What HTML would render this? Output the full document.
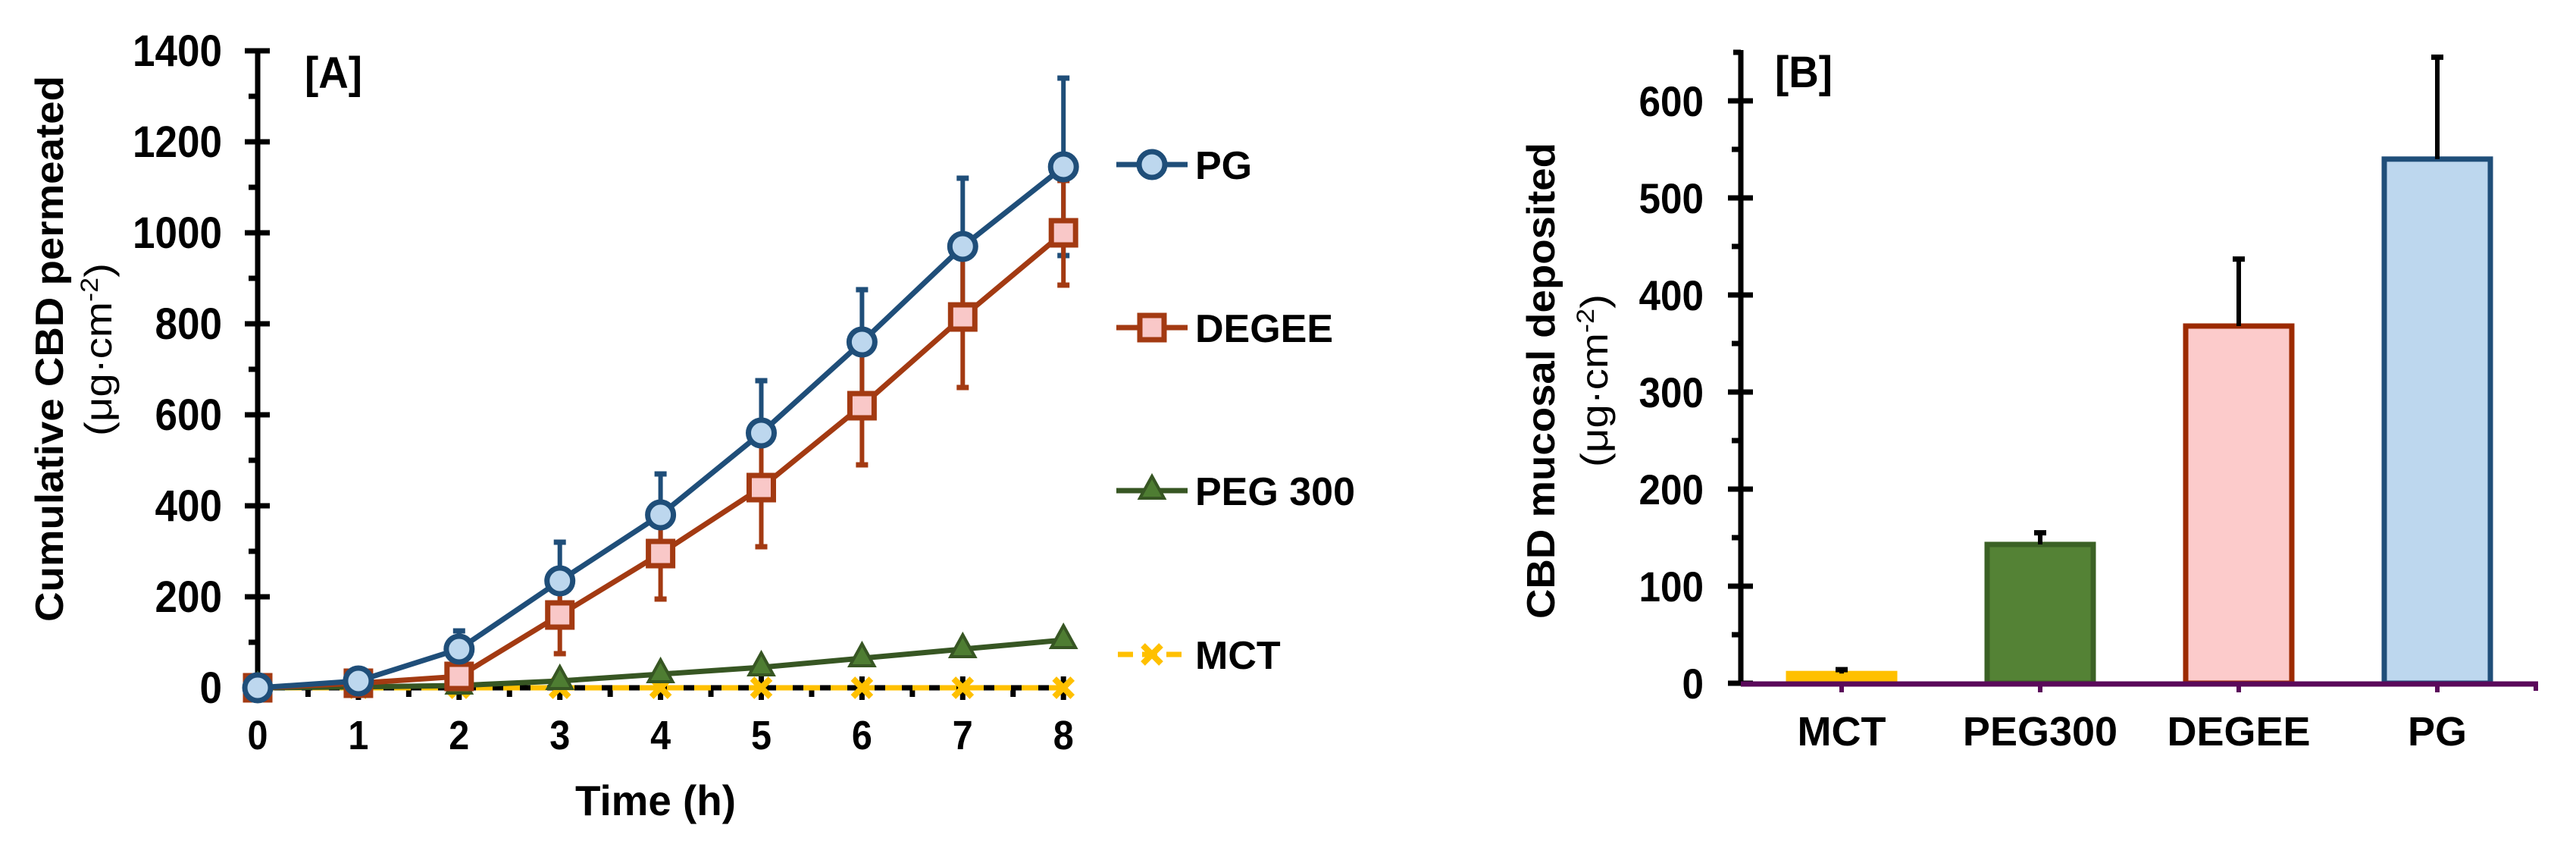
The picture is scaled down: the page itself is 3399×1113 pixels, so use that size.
<!DOCTYPE html>
<html><head><meta charset="utf-8"><style>
html,body{margin:0;padding:0;background:#fff;}
svg{display:block;font-family:"Liberation Sans",Arial,sans-serif;font-weight:bold;}
</style></head><body>
<svg id="fig" width="3399" height="1113" viewBox="0 0 3399 1113" xmlns="http://www.w3.org/2000/svg">
<g id="panelA"></g>
<g id="panelB"></g>
</svg>
<script>
// Panel A data
const hours = [0,1,2,3,4,5,6,7,8];
const pgVals = [0,15,85,235,380,560,760,970,1145];
const pgErr = [0,5,40,85,90,115,115,150,195];
const degeeVals = [0,10,25,160,295,440,620,815,1000];
const degeeErr = [0,5,10,85,100,130,130,155,115];
const pegVals = [0,2,5,15,30,45,65,85,105];
const pegErr = [0,1,1,2,3,4,5,6,6];
const mctVals = [0,0,0,0,0,0,0,0,0];
const yTicksA = [0,200,400,600,800,1000,1200,1400];
const legendNames = ["PG","DEGEE","PEG 300","MCT"];
// Panel B data
const barCats = ["MCT","PEG300","DEGEE","PG"];
const barVals = [10,143,368,540];
const barErr = [4,12,69,105];
const yTicksB = [0,100,200,300,400,500,600];

const NS="http://www.w3.org/2000/svg";
function mk(parent,tag,attrs,text){const e=document.createElementNS(NS,tag);for(const k in attrs)e.setAttribute(k,attrs[k]);if(text!==undefined)e.textContent=text;parent.appendChild(e);return e;}

// ---------- Panel A ----------
const A=document.getElementById('panelA');
const ax0=340, axPer=132.9, ay0=907, ayPer=0.6;
const xA=h=>ax0+h*axPer;
const yA=v=>ay0-v*ayPer;

let t;
t=mk(A,'text',{x:65,y:460,'font-size':52,'text-anchor':'middle',textLength:720,lengthAdjust:'spacingAndGlyphs',transform:'rotate(-90 65 460)',dy:18});
t.textContent='Cumulative CBD permeated';


t=mk(A,'text',{x:130,y:461,'font-size':50,'text-anchor':'middle',textLength:228,lengthAdjust:'spacingAndGlyphs',transform:'rotate(-90 130 461)',dy:17,'font-weight':'normal'});
t.innerHTML='(μg·cm<tspan dy="-18" font-size="32">-2</tspan><tspan dy="18">)</tspan>';



let ln=mk(A,'line',{x1:ax0,y1:yA(1400)-2,x2:ax0,y2:ay0+3,stroke:'#000','stroke-width':7});


ln=mk(A,'line',{x1:ax0-3,y1:ay0,x2:xA(8)+3,y2:ay0,stroke:'#000','stroke-width':7});


yTicksA.forEach((v,i)=>{
  mk(A,'line',{x1:ax0-17,x2:ax0+16,y1:yA(v),y2:yA(v),stroke:'#000','stroke-width':7});
  if(i<yTicksA.length-1) mk(A,'line',{x1:ax0-12,x2:ax0,y1:yA(v+100),y2:yA(v+100),stroke:'#000','stroke-width':7});
  const tx=mk(A,'text',{x:293,y:yA(v)+20,'font-size':58,'text-anchor':'end',textLength:String(v).length*29.5,lengthAdjust:'spacingAndGlyphs'},String(v));
  
  
});
hours.forEach((h,i)=>{
  mk(A,'line',{x1:xA(h),x2:xA(h),y1:ay0-15,y2:ay0+16,stroke:'#000','stroke-width':7});
  if(i<hours.length-1) mk(A,'line',{x1:xA(h+0.5),x2:xA(h+0.5),y1:ay0,y2:ay0+12,stroke:'#000','stroke-width':7});
  const tx=mk(A,'text',{x:xA(h),y:988,'font-size':54,'text-anchor':'middle',textLength:27,lengthAdjust:'spacingAndGlyphs'},String(h));
  
  
});
t=mk(A,'text',{x:865,y:1075,'font-size':56,'text-anchor':'middle',textLength:212,lengthAdjust:'spacingAndGlyphs'},'Time (h)');


t=mk(A,'text',{x:402,y:116,'font-size':58,textLength:76,lengthAdjust:'spacingAndGlyphs'},'[A]');



const series=[
 {name:'PG',vals:pgVals,err:pgErr,line:'#1f4e79',fill:'#bdd7ee',marker:'circle'},
 {name:'DEGEE',vals:degeeVals,err:degeeErr,line:'#a33a12',fill:'#f9c8c8',marker:'square'},
 {name:'PEG 300',vals:pegVals,err:pegErr,line:'#375623',fill:'#4e7d32',marker:'triangle'},
 {name:'MCT',vals:mctVals,err:null,line:'#ffc000',fill:'#ffc000',marker:'x',dash:'22 14'}
];
function marker(g,type,cx,cy,s){
  let m;
  if(type==='circle') m=mk(g,'circle',{cx,cy,r:17,fill:s.fill,stroke:s.line,'stroke-width':7});
  else if(type==='square') m=mk(g,'rect',{x:cx-16,y:cy-16,width:32,height:32,fill:s.fill,stroke:s.line,'stroke-width':7});
  else if(type==='triangle') m=mk(g,'polygon',{points:`${cx},${cy-19} ${cx+16},${cy+10} ${cx-16},${cy+10}`,fill:s.fill,stroke:s.line,'stroke-width':4});
  else { m=mk(g,'path',{d:`M${cx-12},${cy-12}L${cx+12},${cy+12}M${cx+12},${cy-12}L${cx-12},${cy+12}`,stroke:s.line,'stroke-width':8,fill:'none'}); }
  return m;
}
series.forEach(s=>{
  if(!s.err) return;
  const g=mk(A,'g',{});
  
  
  hours.forEach((h,i)=>{
    if(s.err[i]<8) return;
    const x=xA(h),y1=yA(s.vals[i]+s.err[i]),y2=yA(s.vals[i]-s.err[i]);
    mk(g,'line',{x1:x,x2:x,y1,y2,stroke:s.line,'stroke-width':6});
    mk(g,'line',{x1:x-8,x2:x+8,y1,y2:y1,stroke:s.line,'stroke-width':7});
    mk(g,'line',{x1:x-8,x2:x+8,y1:y2,y2,stroke:s.line,'stroke-width':7});
  });
});
[...series].reverse().forEach(s=>{
  const g=mk(A,'g',{});
  
  
  const pts=hours.map((h,i)=>xA(h)+','+yA(s.vals[i])).join(' ');
  const pl=mk(g,'polyline',{points:pts,fill:'none',stroke:s.line,'stroke-width':7});
  if(s.dash) pl.setAttribute('stroke-dasharray',s.dash);
  hours.forEach((h,i)=>{
    const m=marker(g,s.marker,xA(h),yA(s.vals[i]),s);
    
    
  });
});
const legY=[217,432,647,863];
series.forEach((s,i)=>{
  const g=mk(A,'g',{});
  
  
  const l=mk(g,'line',{x1:1473,x2:1567,y1:legY[i],y2:legY[i],stroke:s.line,'stroke-width':7});
  if(s.dash){l.setAttribute('stroke-dasharray','20 12');l.setAttribute('x1',1475);}
  marker(g,s.marker,1520,legY[i],s);
  mk(g,'text',{x:1577,y:legY[i]+19,'font-size':52},legendNames[i]);
});

// ---------- Panel B ----------
const B=document.getElementById('panelB');
const bx0=2297, by0=901, byPer=1.28, bStep=262, bFirst=2430, bW=140;
const xB=i=>bFirst+i*bStep;
const yB=v=>by0-v*byPer;
t=mk(B,'text',{x:2033,y:502,'font-size':52,'text-anchor':'middle',textLength:628,lengthAdjust:'spacingAndGlyphs',transform:'rotate(-90 2033 502)',dy:18},'CBD mucosal deposited');


t=mk(B,'text',{x:2104,y:502,'font-size':50,'text-anchor':'middle',textLength:228,lengthAdjust:'spacingAndGlyphs',transform:'rotate(-90 2104 502)',dy:17,'font-weight':'normal'});
t.innerHTML='(μg·cm<tspan dy="-18" font-size="32">-2</tspan><tspan dy="18">)</tspan>';


ln=mk(B,'line',{x1:bx0,y1:yB(650)-3,x2:bx0,y2:by0+3,stroke:'#000','stroke-width':7});


mk(B,'line',{x1:bx0-10,x2:bx0,y1:yB(650),y2:yB(650),stroke:'#000','stroke-width':7});
yTicksB.forEach((v,i)=>{
  mk(B,'line',{x1:bx0-17,x2:bx0+16,y1:yB(v),y2:yB(v),stroke:'#000','stroke-width':7});
  if(i<yTicksB.length-1) mk(B,'line',{x1:bx0-12,x2:bx0,y1:yB(v+50),y2:yB(v+50),stroke:'#000','stroke-width':7});
  const tx=mk(B,'text',{x:2248,y:yB(v)+20,'font-size':56,'text-anchor':'end',textLength:String(v).length*28.5,lengthAdjust:'spacingAndGlyphs'},String(v));
  
  
});
const barFill=['#ffc000','#548235','#fccbcb','#bdd7ee'];
const barStroke=['#ffc000','#3b6125','#9c2a00','#1f4e79'];
barCats.forEach((c,i)=>{
  const g=mk(B,'g',{});
  
  
  const top=yB(barVals[i]);
  mk(g,'rect',{x:xB(i)-bW/2,y:top,width:bW,height:by0-top,fill:barFill[i],stroke:barStroke[i],'stroke-width':7});
  const et=yB(barVals[i]+barErr[i]);
  mk(g,'line',{x1:xB(i),x2:xB(i),y1:top,y2:et,stroke:'#000','stroke-width':6});
  mk(g,'line',{x1:xB(i)-8,x2:xB(i)+8,y1:et,y2:et,stroke:'#000','stroke-width':7});
  const tx=mk(B,'text',{x:xB(i),y:983,'font-size':54,'text-anchor':'middle'},c);
  
  
  mk(B,'line',{x1:xB(i),x2:xB(i),y1:by0,y2:by0+12,stroke:'#5a0a5a','stroke-width':6});
});
ln=mk(B,'line',{x1:bx0,y1:by0+1,x2:3349,y2:by0+1,stroke:'#5a0a5a','stroke-width':7});


mk(B,'line',{x1:3346,x2:3346,y1:by0,y2:by0+10,stroke:'#5a0a5a','stroke-width':6});
mk(B,'line',{x1:bx0-17,x2:bx0,y1:by0,y2:by0,stroke:'#000','stroke-width':7});
t=mk(B,'text',{x:2342,y:115,'font-size':58,textLength:76,lengthAdjust:'spacingAndGlyphs'},'[B]');


</script>
</body></html>
